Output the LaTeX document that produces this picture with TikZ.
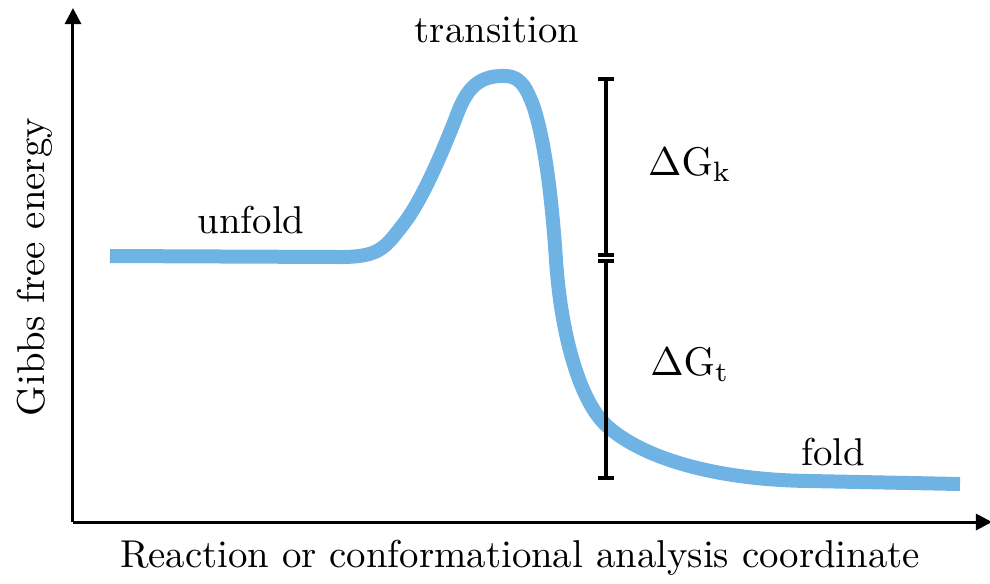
\documentclass[tikz,border=0pt]{standalone}
\usetikzlibrary{arrows.meta}
\definecolor{curveblue}{HTML}{6EB3E3}
\begin{document}
\begin{tikzpicture}[x=0.25pt,y=-0.25pt,
  axis/.style={line width=0.75pt,-{Triangle[length=4pt,width=4pt]}},
  energy/.style={line width=3.5pt,curveblue,line cap=butt,line join=round},
  bar/.style={line width=0.85pt,black},
  lbl/.style={font=\fontsize{9.7}{12}\selectfont,inner sep=0pt,anchor=base}]
\useasboundingbox (0,0) rectangle (990,583);
% axes
\coordinate (O) at (73,522);
\coordinate (ytop) at (73,8);
\coordinate (xend) at (992,522);
\draw[axis] (O) -- (ytop);
\draw[axis] (O) -- (xend);
% energy curve
\draw[energy] (110,256) -- (340,257)
  .. controls (380,257) and (385,248) .. (405,222)
  .. controls (425,195) and (445,145) .. (455,120)
  .. controls (463,98) and (472,77) .. (500,76)
  .. controls (518,75) and (524,82) .. (533,105)
  .. controls (545,140) and (552,200) .. (556,260)
  .. controls (561,335) and (580,402) .. (607,426)
  .. controls (645,460) and (720,480) .. (810,481)
  -- (960,484);
% Delta G bars
\coordinate (ktop) at (606,79);
\coordinate (kbot) at (606,255);
\coordinate (ttop) at (606,261);
\coordinate (tbot) at (606,478);
\draw[bar] (ktop) -- (kbot);
\draw[bar] (ttop) -- (tbot);
\foreach \p in {ktop,kbot,ttop,tbot}{
  \draw[bar] ([xshift=-2pt]\p) -- ([xshift=2pt]\p);}
% labels
\node[lbl] (trans) at (497,42) {transition};
\node[lbl] (unf) at (251,233) {unfold};
\node[lbl] (fld) at (833,465) {fold};
\node[lbl] (dgk) at (690,175) {$\Delta\mathrm{G}_\mathrm{k}$};
\node[lbl] (dgt) at (690,375) {$\Delta\mathrm{G}_\mathrm{t}$};
\node[lbl] (xl) at (520,567) {Reaction or conformational analysis coordinate};
\node[font=\fontsize{9.7}{12}\selectfont,inner sep=0pt,rotate=90] (yl) at (35,267) {Gibbs free energy};
\end{tikzpicture}
\end{document}
